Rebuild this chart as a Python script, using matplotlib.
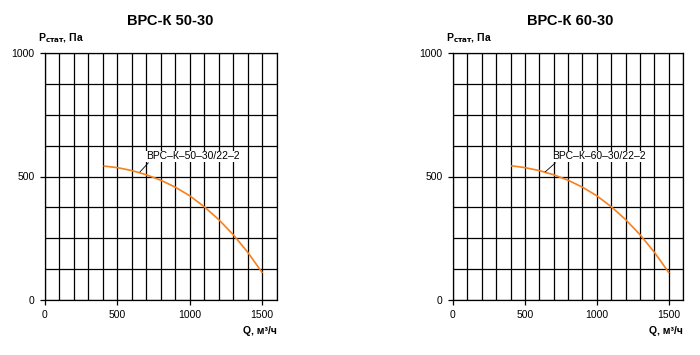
import matplotlib.pyplot as plt
from matplotlib.ticker import MultipleLocator

plt.rcParams['font.family'] = ['Liberation Sans', 'DejaVu Sans']

titles = ['ВРС-К 50-30', 'ВРС-К 60-30']
curve_names = ['ВРС–К–50–30/22–2', 'ВРС–К–60–30/22–2']

# Q, m3/h  and  P static, Pa
q1 = [410, 500, 600, 700, 800, 900, 1000, 1100, 1200, 1300, 1400, 1500]
p1 = [542, 536, 524, 507, 485, 457, 422, 378, 326, 265, 194, 112]
q2 = [410, 500, 600, 700, 800, 900, 1000, 1100, 1200, 1300, 1400, 1500]
p2 = [543, 536, 524, 507, 485, 457, 422, 378, 326, 265, 194, 112]

# leader line (from curve to label) and label anchor, data coords
leaders = [([657, 714], [519, 555]), ([642, 712], [519, 555])]
label_pos = [(698, 582), (689, 582)]

curves = [(q1, p1), (q2, p2)]
orange = '#f7801f'

fig = plt.figure(figsize=(7, 3.55), dpi=100)
lefts = [45 / 700, 453 / 700]
widths = [231.5 / 700, 230 / 700]
bottom = 1 - 300 / 355
height = 247 / 355

for i in range(2):
    ax = fig.add_axes([lefts[i], bottom, widths[i], height])
    ax.set_xlim(0, 1600)
    ax.set_ylim(0, 1000)
    ax.xaxis.set_major_locator(MultipleLocator(500))
    ax.xaxis.set_minor_locator(MultipleLocator(100))
    ax.yaxis.set_major_locator(MultipleLocator(500))
    ax.yaxis.set_minor_locator(MultipleLocator(125))
    ax.grid(which='both', color='black', linewidth=0.9)
    ax.tick_params(which='major', length=3.5, width=0.9, pad=4,
                   labelsize=7.5, color='black')
    ax.tick_params(which='minor', length=0)
    for s in ax.spines.values():
        s.set_linewidth(0.9)
        s.set_color('black')
    ax.set_axisbelow(True)

    q, p = curves[i]
    ax.plot(q, p, color=orange, linewidth=1.2, zorder=3)
    lx, ly = leaders[i]
    ax.plot(lx, ly, color='black', linewidth=0.6, zorder=3)
    ax.text(label_pos[i][0], label_pos[i][1], curve_names[i], fontsize=7.5,
            va='center', ha='left', zorder=4,
            bbox=dict(facecolor='white', edgecolor='none', pad=0.5))

    # axis titles
    ax.text(-0.03, 1.06, r'P$_{\mathbf{стат}}$, Па', transform=ax.transAxes,
            fontsize=7.5, fontweight='bold', ha='left', va='center')
    ax.text(1.0, -0.105, 'Q, м³/ч', transform=ax.transAxes,
            fontsize=7.5, fontweight='bold', ha='right', va='top')

fig.text(170 / 700, 1 - 21 / 355, titles[0], fontsize=10.5,
         fontweight='bold', ha='center', va='center')
fig.text(570 / 700, 1 - 21 / 355, titles[1], fontsize=10.5,
         fontweight='bold', ha='center', va='center')

fig.savefig('out.png', dpi=100)
